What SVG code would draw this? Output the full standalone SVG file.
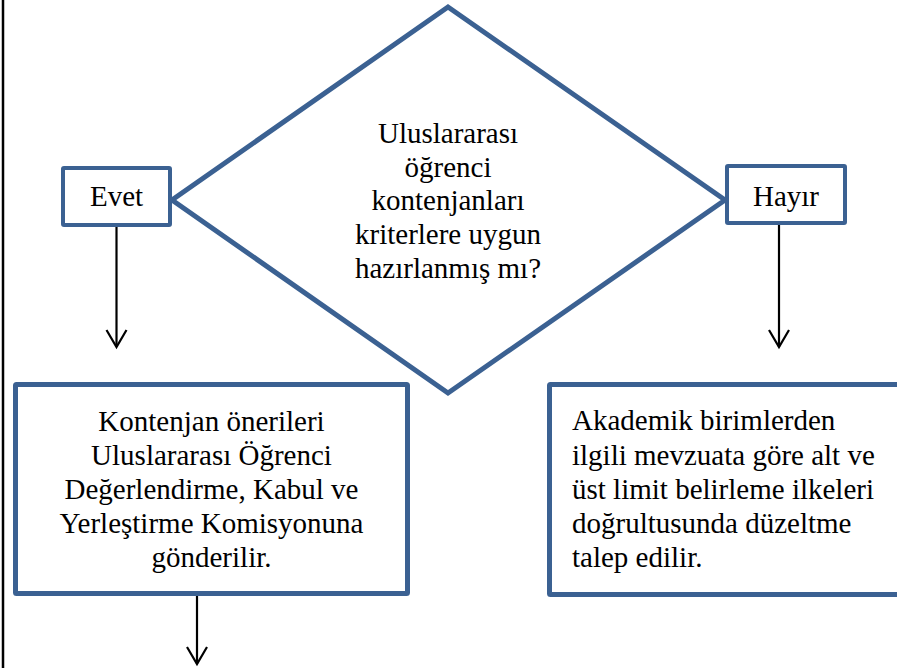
<svg xmlns="http://www.w3.org/2000/svg" width="897" height="668" viewBox="0 0 897 668">
  <style>
    .shape { fill: #ffffff; stroke: #3B6192; stroke-linejoin: miter; }
    text { font-family: 'Liberation Serif', 'Times New Roman', serif; font-size: 29px; fill: #000000; }
    .mid { text-anchor: middle; }
    .conn { stroke: #000000; stroke-width: 2.2; fill: none; }
  </style>
  <defs>
    <marker id="arrow" viewBox="-20 -12 22 24" refX="0" refY="0" markerWidth="22" markerHeight="24" markerUnits="userSpaceOnUse" orient="auto" overflow="visible">
      <path d="M -17 -10 L 0 0 L -17 10" fill="none" stroke="#000000" stroke-width="2.2"/>
    </marker>
  </defs>
  <rect x="0" y="0" width="897" height="668" fill="#ffffff"/>
  <line x1="3" y1="0" x2="3" y2="668" stroke="#000000" stroke-width="2.5"/>

  <g id="decision">
    <polygon class="shape" stroke-width="5" points="448,7 172,200 448,393 725,200"/>
    <text class="mid" x="448" y="143">Uluslararası</text>
    <text class="mid" x="448" y="177">öğrenci</text>
    <text class="mid" x="448" y="210">kontenjanları</text>
    <text class="mid" x="448" y="244">kriterlere uygun</text>
    <text class="mid" x="448" y="278">hazırlanmış mı?</text>
  </g>

  <g id="evet">
    <rect class="shape" stroke-width="4" x="63" y="168" width="107" height="57" rx="1"/>
    <text class="mid" x="116.5" y="206">Evet</text>
  </g>

  <g id="hayir">
    <rect class="shape" stroke-width="4" x="727" y="166" width="118" height="57" rx="1"/>
    <text class="mid" x="786" y="206">Hayır</text>
  </g>

  <g id="send">
    <rect class="shape" stroke-width="5" x="15.5" y="384.5" width="392" height="209" rx="1"/>
    <text class="mid" x="211.5" y="431">Kontenjan önerileri</text>
    <text class="mid" x="211.5" y="465">Uluslararası Öğrenci</text>
    <text class="mid" x="211.5" y="499">Değerlendirme, Kabul ve</text>
    <text class="mid" x="211.5" y="533">Yerleştirme Komisyonuna</text>
    <text class="mid" x="211.5" y="567">gönderilir.</text>
  </g>

  <g id="correct">
    <rect class="shape" stroke-width="5" x="549.5" y="384.5" width="370" height="210" rx="1"/>
    <text x="572" y="430">Akademik birimlerden</text>
    <text x="572" y="465">ilgili mevzuata göre alt ve</text>
    <text x="572" y="499">üst limit belirleme ilkeleri</text>
    <text x="572" y="533">doğrultusunda düzeltme</text>
    <text x="572" y="567">talep edilir.</text>
  </g>

  <g id="connectors">
    <line class="conn" x1="116.5" y1="227" x2="116.5" y2="347" marker-end="url(#arrow)"/>
    <line class="conn" x1="779" y1="225" x2="779" y2="347" marker-end="url(#arrow)"/>
    <line class="conn" x1="197" y1="596" x2="197" y2="664" marker-end="url(#arrow)"/>
  </g>
</svg>
